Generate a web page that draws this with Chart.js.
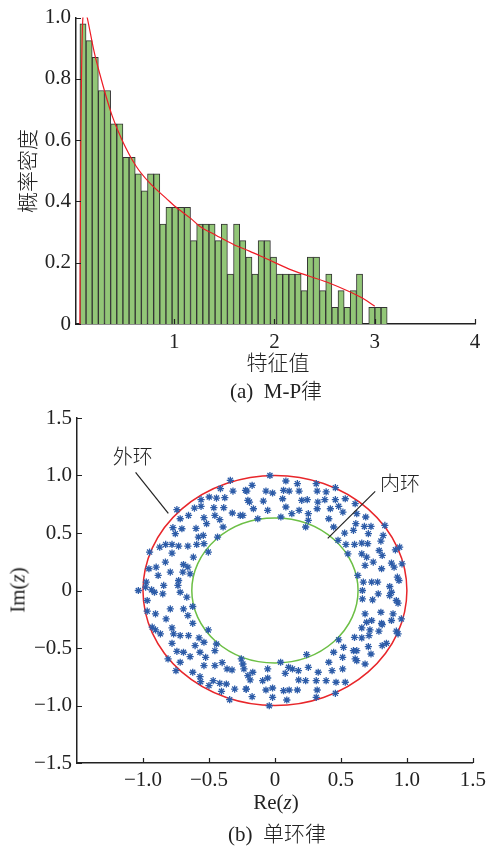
<!DOCTYPE html>
<html>
<head>
<meta charset="utf-8">
<script src="https://cdn.jsdelivr.net/npm/chart.js@4.4.1/dist/chart.umd.min.js"></script>
<style>
  body { margin: 0; background: #fff; }
  #page { position: relative; width: 491px; height: 846px; overflow: hidden; }
  .box { position: absolute; left: 0; width: 491px; }
  .t { position: absolute; transform: translate(-50%, -50%); white-space: pre; line-height: 1;
       font: 300 21px "Liberation Serif", "Noto Sans CJK SC"; color: #222; }
  .v { transform: translate(-50%, -50%) rotate(-90deg); }
</style>
</head>
<body>
<div id="page">
  <div class="box" style="top:0;height:360px"><canvas id="histChart"></canvas></div>
  <div class="box" style="top:400px;height:400px"><canvas id="ringChart"></canvas></div>

  <div class="t v" style="left:26px;top:171px">概率密度</div>
  <div class="t" style="left:278px;top:361px">特征值</div>
  <div class="t" style="left:276px;top:389px">(a)  M-P律</div>

  <div class="t v" style="left:18px;top:590px">Im(<i>z</i>)</div>
  <div class="t" style="left:276px;top:802px">Re(<i>z</i>)</div>
  <div class="t" style="left:277px;top:832px">(b)  单环律</div>
</div>

<script>
// ---- (a) 直方图数据 ----
const binStart = 0.059;
const binWidth = 0.0613;
const density = [
  0.98, 0.925, 0.87, 0.762, 0.762, 0.653, 0.653, 0.544, 0.544, 0.49,
  0.435, 0.49, 0.49, 0.326, 0.381, 0.381, 0.381, 0.381, 0.272, 0.326,
  0.326, 0.326, 0.272, 0.326, 0.163, 0.326, 0.272, 0.218, 0.163, 0.272,
  0.272, 0.218, 0.163, 0.163, 0.163, 0.163, 0.109, 0.218, 0.218, 0.109,
  0.163, 0.054, 0.109, 0.054, 0.109, 0.163, 0, 0.054, 0.054, 0.054
];
// M-P 理论曲线
const mpX = [0.059, 0.065, 0.089, 0.11, 0.132, 0.2, 0.25, 0.38, 0.48, 0.62, 0.75, 0.92, 1.0,
  1.17, 1.25, 1.42, 1.6, 1.75, 1.92, 2.18, 2.52, 2.75, 2.9, 3.0];
const mpY = [0, 0.45, 1.0, 1.03, 1.0, 0.89, 0.825, 0.68, 0.6, 0.515, 0.462, 0.41, 0.386,
  0.343, 0.32, 0.289, 0.258, 0.238, 0.213, 0.175, 0.137, 0.105, 0.08, 0.058];
const xTicksA = [1, 2, 3, 4];
const yTicksA = [0, 0.2, 0.4, 0.6, 0.8, 1.0];

// ---- (b) 单环律数据 ----
const ringX = [
  -0.338, -0.413, -0.318, -0.213, -0.205, -0.56, -0.498, -0.443, -0.38, -0.61,
  -0.56, -0.463, -0.388, -0.323, -0.263, -0.743, -0.718, -0.655, -0.538, -0.455,
  -0.598, -0.518, -0.418, -0.393, -0.773, -0.705, -0.755, -0.873, -0.95, -0.828,
  -0.78, -0.73, -0.66, -0.78, -0.58, -0.543, -0.538, -0.593, -0.435, -0.618,
  -0.505, -0.83, -0.955, -0.9, -0.885, -0.693, -0.66, -0.643, -0.698, -0.793,
  -0.975, -0.935, -0.913, -0.98, -1.035, -0.843, -0.85, -0.73, -0.735, -0.718,
  -0.668, -0.968, -0.793, -0.693, -0.623, -0.905, -0.825,
  -0.968, -0.66, -0.623, -0.93, -0.905, -0.868, -0.78, -0.768, -0.718, -0.655,
  -0.575, -0.78, -0.743, -0.693, -0.643, -0.605, -0.568, -0.538, -0.525, -0.81,
  -0.718, -0.75, -0.505, -0.443, -0.455, -0.623, -0.568, -0.563, -0.5, -0.468,
  -0.418, -0.368, -0.405, -0.538, -0.455, -0.4, -0.363, -0.325, -0.343, -0.305,
  -0.218, -0.235, -0.205,
  -0.038, -0.173, -0.223, -0.068, -0.018, 0.083, 0.065, 0.108, 0.17, 0.183,
  0.313, 0.32, 0.388, 0.458, -0.193, -0.163, -0.088, -0.055, 0.058, 0.083,
  0.128, 0.183, 0.203, 0.245, 0.253, 0.325, 0.32, 0.378, 0.42, 0.458,
  0.483, 0.533, 0.515, 0.608, 0.62, -0.243, 0.045, -0.13, 0.253, 0.233,
  0.408, 0.445, 0.528, 0.595, 0.613, 0.688, 0.678, 0.728, 0.708, 0.833,
  0.82, 0.803, 0.478, 0.538, 0.603, 0.658, 0.703, 0.553, 0.658, 0.695,
  0.745, 0.683, 0.79, 0.813, 0.913, 0.945, 0.883, 0.903, 0.963, 0.808,
  0.928, 0.94, 0.628, 0.67, 0.663, 0.663, 0.733, 0.778, 0.783, 0.74,
  0.87, 0.883, 0.87, 0.92, 0.933, 0.803, 0.895, 0.958, 0.683, 0.695,
  0.733, 0.808, 0.883,
  0.658, 0.72, 0.788, 0.813, 0.92, 0.933, 0.603, 0.658, 0.713, 0.708,
  0.728, 0.845, 0.813, 0.52, 0.595, 0.62, 0.608, 0.62, 0.683, 0.483,
  0.445, 0.513, 0.408, 0.433, 0.513, 0.533, 0.463, 0.458, 0.388, 0.328,
  0.313, 0.32, 0.313, 0.24, 0.253, 0.233, 0.178, 0.18, 0.17, 0.133,
  0.103, 0.078, 0.108, 0.09, 0.065, 0.043, -0.018, -0.043, -0.018, -0.068,
  -0.055, -0.055, -0.093, -0.168, -0.188, -0.218, -0.173, -0.243, -0.255
];
const ringY = [
  0.958, 0.886, 0.865, 0.865, 0.784, 0.79, 0.813, 0.804, 0.807, 0.717,
  0.732, 0.72, 0.72, 0.674, 0.653, 0.703, 0.624, 0.653, 0.633, 0.653,
  0.54, 0.581, 0.616, 0.552, 0.546, 0.537, 0.494, 0.377, 0.334, 0.401,
  0.401, 0.386, 0.386, 0.325, 0.465, 0.479, 0.407, 0.401, 0.465, 0.29,
  0.334, 0.247, 0.189, 0.203, 0.131, 0.226, 0.203, 0.145, 0.16, 0.16,
  0.073, 0.006, -0.015, 0.029, 0, 0.044, -0.029, 0.087, 0.044, -0.015,
  -0.058, -0.087, -0.16, -0.16, -0.139, -0.203, -0.247,
  -0.18, -0.218, -0.285, -0.319, -0.343, -0.377, -0.325, -0.377, -0.392, -0.392,
  -0.412, -0.459, -0.529, -0.537, -0.575, -0.479, -0.537, -0.45, -0.581, -0.595,
  -0.624, -0.697, -0.343, -0.465, -0.523, -0.711, -0.749, -0.793, -0.827, -0.784,
  -0.807, -0.813, -0.877, -0.653, -0.653, -0.627, -0.682, -0.691, -0.949, -0.857,
  -0.857, -0.682, -0.74,
  1.0, 0.915, 0.871, 0.865, 0.848, 0.952, 0.871, 0.865, 0.929, 0.865,
  0.929, 0.865, 0.857, 0.894, 0.769, 0.711, 0.778, 0.697, 0.798, 0.726,
  0.668, 0.697, 0.784, 0.79, 0.668, 0.769, 0.711, 0.79, 0.711, 0.79,
  0.732, 0.798, 0.682, 0.755, 0.668, 0.653, 0.639, 0.624, 0.61, 0.552,
  0.624, 0.552, 0.499, 0.523, 0.581, 0.639, 0.557, 0.557, 0.494, 0.566,
  0.479, 0.43, 0.436, 0.401, 0.401, 0.412, 0.407, 0.319, 0.319, 0.29,
  0.247, 0.218, 0.348, 0.305, 0.354, 0.377, 0.238, 0.203, 0.232, 0.189,
  0.116, 0.087, 0.131, 0.073, 0, -0.073, 0.073, 0.073, -0.029, -0.081,
  0.035, -0.015, -0.044, -0.087, -0.11, -0.189, -0.203, -0.247, -0.203, -0.276,
  -0.261, -0.285, -0.261,
  -0.325, -0.343, -0.354, -0.296, -0.354, -0.377, -0.407, -0.412, -0.392, -0.488,
  -0.552, -0.459, -0.479, -0.494, -0.523, -0.523, -0.595, -0.61, -0.639, -0.429,
  -0.537, -0.581, -0.624, -0.697, -0.682, -0.798, -0.798, -0.894, -0.784, -0.711,
  -0.784, -0.865, -0.929, -0.557, -0.668, -0.784, -0.697, -0.778, -0.865, -0.682,
  -0.668, -0.72, -0.865, -0.952, -0.871, -0.624, -0.929, -1.002, -0.848, -0.865,
  -0.682, -0.761, -0.784, -0.711, -0.778, -0.857, -0.923, -0.639, -0.595
];
const ringRadii = [1.0, 0.63];
const xTicksB = [-1.0, -0.5, 0, 0.5, 1.0, 1.5];
const yTicksB = [-1.5, -1.0, -0.5, 0, 0.5, 1.0, 1.5];
// 标注: 外环 / 内环
const noteText = ["外环", "内环"];
const noteX = [-1.078, 0.947];
const noteY = [1.167, 0.928];
const leaderX1 = [-1.056, 0.76];
const leaderY1 = [1.028, 0.862];
const leaderX2 = [-0.808, 0.4];
const leaderY2 = [0.671, 0.453];

const tickFont = { family: "Liberation Serif", size: 21 };
const fmt = (v) => (v === 0 ? "0" : (v < 0 ? "\u2212" : "") + Math.abs(v).toFixed(1));

// 向内的刻度线
const inwardTicks = {
  id: "inwardTicks",
  afterDraw(chart) {
    const { ctx, chartArea: a, scales } = chart;
    ctx.save();
    ctx.strokeStyle = "#222";
    ctx.lineWidth = 1.2;
    ctx.beginPath();
    scales.x.ticks.forEach((t) => {
      const p = Math.round(scales.x.getPixelForValue(t.value)) + 0.5;
      ctx.moveTo(p, a.bottom);
      ctx.lineTo(p, a.bottom - 5);
    });
    scales.y.ticks.forEach((t) => {
      const p = Math.round(scales.y.getPixelForValue(t.value)) + 0.5;
      ctx.moveTo(a.left, p);
      ctx.lineTo(a.left + 5, p);
    });
    ctx.stroke();
    ctx.restore();
  },
};

// ---- (a) M-P律 ----
new Chart(document.getElementById("histChart"), {
  type: "bar",
  data: {
    datasets: [
      {
        type: "line",
        data: mpX.map((x, i) => ({ x: x, y: mpY[i] })),
        borderColor: "#ee1c25",
        borderWidth: 1.2,
        pointRadius: 0,
        cubicInterpolationMode: "monotone",
        order: 1,
      },
      {
        data: density.map((d, i) => ({ x: binStart + binWidth * (i + 0.5), y: d })),
        backgroundColor: "#92c677",
        borderColor: "#333",
        borderWidth: 1,
        barPercentage: 1,
        categoryPercentage: 1,
        order: 2,
      },
    ],
  },
  options: {
    responsive: true,
    maintainAspectRatio: false,
    animation: false,
    layout: { padding: { top: 16, right: 16, left: 0, bottom: 0 } },
    plugins: { legend: { display: false }, tooltip: { enabled: false } },
    scales: {
      x: {
        type: "linear",
        min: 0.02,
        max: 4,
        offset: false,
        grid: { display: false, drawTicks: false },
        border: { display: true, color: "#222", width: 1.5 },
        afterBuildTicks: (s) => { s.ticks = xTicksA.map((v) => ({ value: v })); },
        afterFit: (s) => { s.height = 36; },
        ticks: { font: tickFont, color: "#222", padding: 6, maxRotation: 0, callback: (v) => String(v) },
      },
      y: {
        min: 0,
        max: 1,
        grid: { display: false, drawTicks: false },
        border: { display: true, color: "#222", width: 1.5 },
        afterBuildTicks: (s) => { s.ticks = yTicksA.map((v) => ({ value: v })); },
        afterFit: (s) => { s.width = 76; },
        ticks: { font: tickFont, color: "#222", padding: 5, callback: fmt },
      },
    },
  },
  plugins: [inwardTicks],
});

// 内外环 + 标注
const ringPlugin = {
  id: "rings",
  beforeDatasetsDraw(chart) {
    const { ctx, scales: { x, y } } = chart;
    const cx = x.getPixelForValue(0), cy = y.getPixelForValue(0);
    const colors = ["#e8262a", "#6cbf45"];
    ctx.save();
    ctx.lineWidth = 1.5;
    ringRadii.forEach((r, i) => {
      ctx.strokeStyle = colors[i];
      ctx.beginPath();
      ctx.ellipse(cx, cy, x.getPixelForValue(r) - cx, cy - y.getPixelForValue(r), 0, 0, Math.PI * 2);
      ctx.stroke();
    });
    ctx.restore();
  },
  afterDraw(chart) {
    const { ctx, scales: { x, y } } = chart;
    ctx.save();
    ctx.strokeStyle = "#222";
    ctx.lineWidth = 1.2;
    ctx.fillStyle = "#222";
    ctx.font = '300 20px "Noto Sans CJK SC"';
    ctx.textAlign = "center";
    ctx.textBaseline = "middle";
    noteText.forEach((txt, i) => {
      ctx.beginPath();
      ctx.moveTo(x.getPixelForValue(leaderX1[i]), y.getPixelForValue(leaderY1[i]));
      ctx.lineTo(x.getPixelForValue(leaderX2[i]), y.getPixelForValue(leaderY2[i]));
      ctx.stroke();
      ctx.fillText(txt, x.getPixelForValue(noteX[i]), y.getPixelForValue(noteY[i]));
    });
    ctx.restore();
  },
};

// ---- (b) 单环律 ----
new Chart(document.getElementById("ringChart"), {
  type: "scatter",
  data: {
    datasets: [
      {
        data: ringX.map((x, i) => ({ x: x, y: ringY[i] })),
        pointStyle: "star",
        pointRadius: 3.6,
        borderColor: "#2d5ca8",
        backgroundColor: "#2d5ca8",
        borderWidth: 1.3,
      },
    ],
  },
  options: {
    responsive: true,
    maintainAspectRatio: false,
    animation: false,
    layout: { padding: { top: 18, right: 15, left: 0, bottom: 0 } },
    plugins: { legend: { display: false }, tooltip: { enabled: false } },
    scales: {
      x: {
        min: -1.5,
        max: 1.5,
        grid: { display: false, drawTicks: false },
        border: { display: true, color: "#222", width: 1.5 },
        afterBuildTicks: (s) => { s.ticks = xTicksB.map((v) => ({ value: v })); },
        afterFit: (s) => { s.height = 37; },
        ticks: { font: tickFont, color: "#222", padding: 5, maxRotation: 0, callback: fmt },
      },
      y: {
        min: -1.5,
        max: 1.5,
        grid: { display: false, drawTicks: false },
        border: { display: true, color: "#222", width: 1.5 },
        afterBuildTicks: (s) => { s.ticks = yTicksB.map((v) => ({ value: v })); },
        afterFit: (s) => { s.width = 77; },
        ticks: { font: tickFont, color: "#222", padding: 5, callback: fmt },
      },
    },
  },
  plugins: [ringPlugin, inwardTicks],
});
</script>
</body>
</html>
